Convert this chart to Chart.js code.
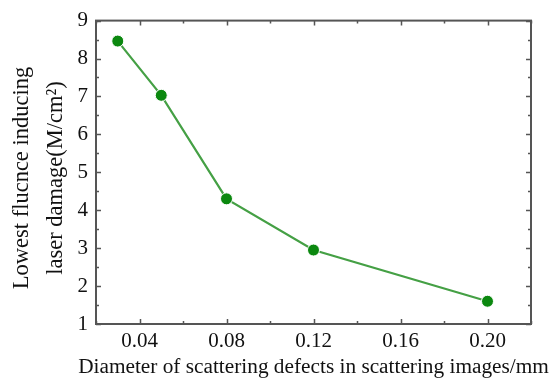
<!DOCTYPE html>
<html>
<head>
<meta charset="utf-8">
<script src="https://cdn.jsdelivr.net/npm/chart.js@4/dist/chart.umd.min.js"></script>
<style>
  html, body { margin: 0; padding: 0; background: #fff; }
  #wrap { width: 551px; height: 383px; }
</style>
</head>
<body>
<div id="wrap"><canvas id="chart" width="551" height="383"></canvas></div>
<script>
// ---------- DATA ----------
const diameters = [0.03, 0.05, 0.08, 0.12, 0.20];
const fluence = [8.46, 7.03, 4.30, 2.95, 1.60];
const xTickLabels = [0.04, 0.08, 0.12, 0.16, 0.20];
const yTickLabels = [1, 2, 3, 4, 5, 6, 7, 8, 9];
const xTitle = 'Diameter of scattering defects in scattering images/mm';
const yTitle = ['Lowest flucnce inducing', 'laser damage(M/cm\u00B2)'];

const SERIF = "'Liberation Serif', 'DejaVu Serif', serif";
const TICK_FONT = { family: SERIF, size: 21 };
const AXIS_COLOR = '#555';

function near(list, v) {
    return list.some(t => Math.abs(t - v) < 1e-6);
}

// inward ticks on all four sides + frame
const frameTicks = {
    id: 'frameTicks',
    afterDraw(chart) {
        const { ctx, chartArea: a, scales: { x, y } } = chart;
        ctx.save();
        ctx.strokeStyle = AXIS_COLOR;
        ctx.lineWidth = 1.5;
        ctx.beginPath();
        x.ticks.forEach(t => {
            const px = Math.round(x.getPixelForValue(t.value)) + 0.5;
            const len = near(xTickLabels, t.value) ? 5 : 3;
            ctx.moveTo(px, a.bottom); ctx.lineTo(px, a.bottom - len);
            ctx.moveTo(px, a.top); ctx.lineTo(px, a.top + len);
        });
        y.ticks.forEach(t => {
            const py = Math.round(y.getPixelForValue(t.value)) + 0.5;
            const len = near(yTickLabels, t.value) ? 5 : 3;
            ctx.moveTo(a.left, py); ctx.lineTo(a.left + len, py);
            ctx.moveTo(a.right, py); ctx.lineTo(a.right - len, py);
        });
        ctx.stroke();
        ctx.lineWidth = 2;
        ctx.strokeRect(a.left, a.top, a.right - a.left, a.bottom - a.top);
        ctx.restore();
    }
};

// axis titles (x title is wider than the plot, so chart.js would squeeze it)
const axisTitles = {
    id: 'axisTitles',
    afterDraw(chart) {
        const { ctx, chartArea: a } = chart;
        ctx.save();
        ctx.fillStyle = '#111';
        ctx.textAlign = 'center';
        ctx.textBaseline = 'middle';
        ctx.font = '21.3px ' + SERIF;
        ctx.fillText(xTitle, (a.left + a.right) / 2, 367);

        ctx.font = '22.5px ' + SERIF;
        ctx.translate(22, 178);
        ctx.rotate(-Math.PI / 2);
        ctx.fillText(yTitle[0], 0, 0);
        ctx.fillText(yTitle[1], 0, 34);
        ctx.restore();
    }
};

new Chart(document.getElementById('chart'), {
    type: 'line',
    data: {
        datasets: [{
            data: diameters.map((d, i) => ({ x: d, y: fluence[i] })),
            borderColor: '#45a045',
            borderWidth: 2.2,
            tension: 0,
            pointRadius: 6,
            pointBackgroundColor: '#0b880f',
            pointBorderColor: '#ffffff',
            pointBorderWidth: 1
        }]
    },
    options: {
        responsive: false,
        animation: false,
        devicePixelRatio: 1,
        layout: { padding: { top: 17, right: 20, left: 0, bottom: 0 } },
        plugins: { legend: { display: false }, tooltip: { enabled: false } },
        scales: {
            x: {
                type: 'linear',
                min: 0.02,
                max: 0.22,
                afterFit: s => { s.height = 59; },
                grid: { display: false, drawTicks: false },
                border: { display: false },
                ticks: {
                    stepSize: 0.02,
                    autoSkip: false,
                    maxRotation: 0,
                    padding: 5,
                    color: '#111',
                    font: TICK_FONT,
                    callback: v => near(xTickLabels, v) ? v.toFixed(2) : ''
                }
            },
            y: {
                min: 1,
                max: 9,
                afterFit: s => { s.width = 96; },
                grid: { display: false, drawTicks: false },
                border: { display: false },
                ticks: {
                    stepSize: 0.5,
                    autoSkip: false,
                    padding: 8,
                    color: '#111',
                    font: TICK_FONT,
                    callback: v => near(yTickLabels, v) ? String(v) : ''
                }
            }
        }
    },
    plugins: [frameTicks, axisTitles]
});
</script>
</body>
</html>
